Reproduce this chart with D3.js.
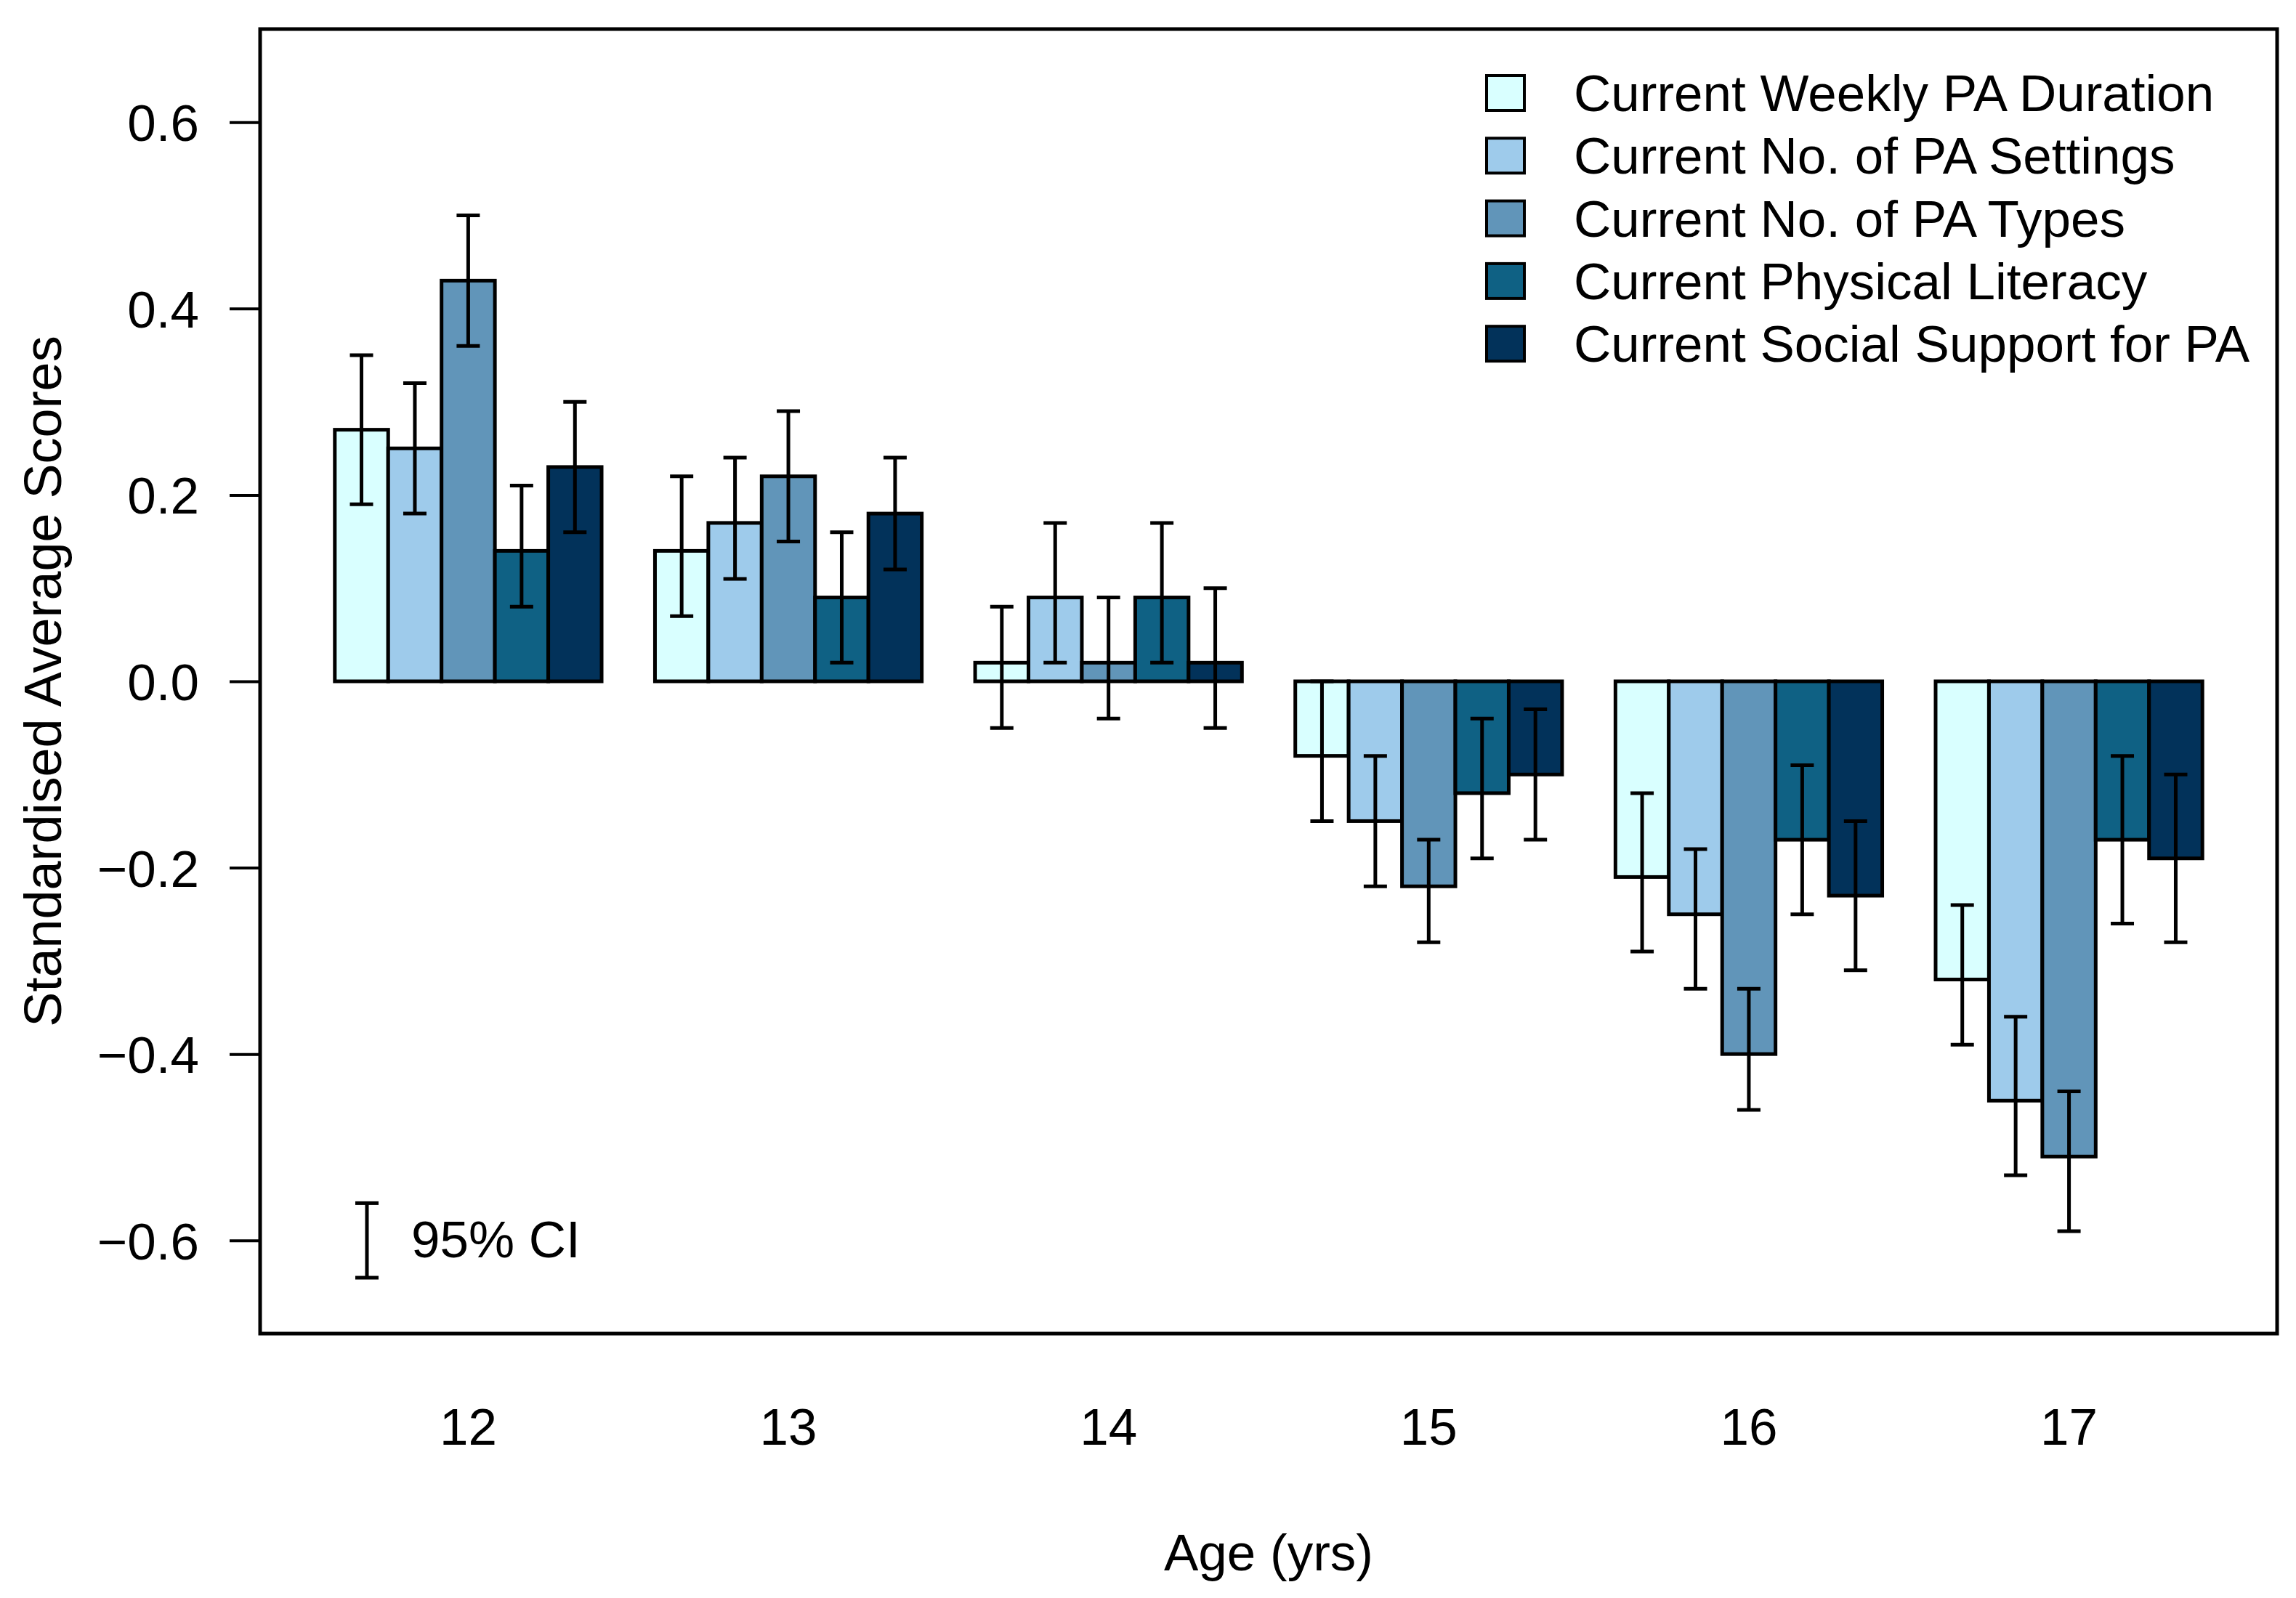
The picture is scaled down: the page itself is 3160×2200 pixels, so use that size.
<!DOCTYPE html>
<html>
<head>
<meta charset="utf-8">
<script src="https://cdn.jsdelivr.net/npm/d3@7"></script>
<style>
    body { margin: 0; background: #fff; }
    text { font-family: "Liberation Sans", Arial, Helvetica, sans-serif; }
</style>
</head>
<body>
<div id="chart"></div>
<script>
// age groups on the x axis
var ages = ["12", "13", "14", "15", "16", "17"];
// series, in legend order
var seriesNames = [
    "Current Weekly PA Duration",
    "Current No. of PA Settings",
    "Current No. of PA Types",
    "Current Physical Literacy",
    "Current Social Support for PA"
];
var seriesColors = ["#D9FFFF", "#9ECBEB", "#6195B9", "#0F6184", "#02325A"];

// standardised average scores, one array per series (ages 12..17)
var duration = [0.27, 0.14, 0.02, -0.08, -0.21, -0.32];
var settings = [0.25, 0.17, 0.09, -0.15, -0.25, -0.45];
var types    = [0.43, 0.22, 0.02, -0.22, -0.40, -0.51];
var literacy = [0.14, 0.09, 0.09, -0.12, -0.17, -0.17];
var support  = [0.23, 0.18, 0.02, -0.10, -0.23, -0.19];

// 95% CI bounds
var durationLo = [0.19, 0.07, -0.05, -0.15, -0.29, -0.39];
var settingsLo = [0.18, 0.11, 0.02, -0.22, -0.33, -0.53];
var typesLo    = [0.36, 0.15, -0.04, -0.28, -0.46, -0.59];
var literacyLo = [0.08, 0.02, 0.02, -0.19, -0.25, -0.26];
var supportLo  = [0.16, 0.12, -0.05, -0.17, -0.31, -0.28];

var durationHi = [0.35, 0.22, 0.08, 0.00, -0.12, -0.24];
var settingsHi = [0.32, 0.24, 0.17, -0.08, -0.18, -0.36];
var typesHi    = [0.50, 0.29, 0.09, -0.17, -0.33, -0.44];
var literacyHi = [0.21, 0.16, 0.17, -0.04, -0.09, -0.08];
var supportHi  = [0.30, 0.24, 0.10, -0.03, -0.15, -0.10];

var yTicks = [-0.6, -0.4, -0.2, 0.0, 0.2, 0.4, 0.6];

var means = [duration, settings, types, literacy, support];
var lows = [durationLo, settingsLo, typesLo, literacyLo, supportLo];
var highs = [durationHi, settingsHi, typesHi, literacyHi, supportHi];

// flat rows for drawing
var rows = [];
ages.forEach(function (age, i) {
    seriesNames.forEach(function (name, s) {
        rows.push({ age: age, name: name, color: seriesColors[s],
            value: means[s][i], lo: lows[s][i], hi: highs[s][i] });
    });
});

var width = 3160, height = 2200;
var plot = { left: 358, right: 3134, top: 40, bottom: 1836 };
var fontSize = 71;

var svg = d3.select("#chart")
    .append("svg")
    .attr("width", width)
    .attr("height", height)
    .style("background", "#fff");

var y = d3.scaleLinear()
    .domain([-0.7, 0.7])
    .range([plot.bottom, plot.top]);

// 5 bars + one bar-wide gap per group, like R barplot(beside = TRUE)
var xGroup = d3.scaleBand()
    .domain(ages)
    .range([plot.left, plot.right])
    .paddingInner(1 / 6)
    .paddingOuter(0.7 / 3);

var xBar = d3.scaleBand()
    .domain(seriesNames)
    .range([0, xGroup.bandwidth()]);

// bars
svg.append("g")
    .selectAll("rect")
    .data(rows)
    .join("rect")
    .attr("x", function (d) { return xGroup(d.age) + xBar(d.name); })
    .attr("width", xBar.bandwidth())
    .attr("y", function (d) { return y(Math.max(0, d.value)); })
    .attr("height", function (d) { return Math.abs(y(d.value) - y(0)); })
    .attr("fill", function (d) { return d.color; })
    .attr("stroke", "#000")
    .attr("stroke-width", 5);

// error bars
var capHalf = 16;
var errGroup = svg.append("g")
    .attr("stroke", "#000")
    .attr("stroke-width", 5)
    .selectAll("g")
    .data(rows)
    .join("g")
    .attr("transform", function (d) {
        return "translate(" + (xGroup(d.age) + xBar(d.name) + xBar.bandwidth() / 2) + ",0)";
    });
errGroup.append("line")
    .attr("y1", function (d) { return y(d.lo); })
    .attr("y2", function (d) { return y(d.hi); });
errGroup.append("line")
    .attr("x1", -capHalf).attr("x2", capHalf)
    .attr("y1", function (d) { return y(d.lo); })
    .attr("y2", function (d) { return y(d.lo); });
errGroup.append("line")
    .attr("x1", -capHalf).attr("x2", capHalf)
    .attr("y1", function (d) { return y(d.hi); })
    .attr("y2", function (d) { return y(d.hi); });

// y axis
var yAxis = svg.append("g")
    .attr("transform", "translate(" + plot.left + ",0)")
    .call(d3.axisLeft(y)
        .tickValues(yTicks)
        .tickFormat(d3.format(".1f"))
        .tickSize(42)
        .tickPadding(42));
yAxis.select(".domain").remove();
yAxis.selectAll(".tick line").attr("stroke", "#000").attr("stroke-width", 4);
yAxis.selectAll(".tick text")
    .attr("fill", "#000")
    .style("font-size", fontSize + "px")
    .attr("dy", "0.36em");

// x labels under each group
svg.append("g")
    .selectAll("text")
    .data(ages)
    .join("text")
    .attr("x", function (d) { return xGroup(d) + xGroup.bandwidth() / 2; })
    .attr("y", 1989)
    .attr("text-anchor", "middle")
    .style("font-size", fontSize + "px")
    .text(function (d) { return d; });

// frame
svg.append("rect")
    .attr("x", plot.left)
    .attr("y", plot.top)
    .attr("width", plot.right - plot.left)
    .attr("height", plot.bottom - plot.top)
    .attr("fill", "none")
    .attr("stroke", "#000")
    .attr("stroke-width", 5);

// axis titles
svg.append("text")
    .attr("x", (plot.left + plot.right) / 2)
    .attr("y", 2162)
    .attr("text-anchor", "middle")
    .style("font-size", fontSize + "px")
    .text("Age (yrs)");

svg.append("text")
    .attr("transform", "translate(84," + y(0) + ") rotate(-90)")
    .attr("text-anchor", "middle")
    .style("font-size", "72px")
    .text("Standardised Average Scores");

// legend
var legend = svg.append("g")
    .selectAll("g")
    .data(seriesNames)
    .join("g")
    .attr("transform", function (d, i) { return "translate(2046," + (128 + i * 86.3) + ")"; });
legend.append("rect")
    .attr("x", 0)
    .attr("y", -24)
    .attr("width", 52)
    .attr("height", 48)
    .attr("fill", function (d, i) { return seriesColors[i]; })
    .attr("stroke", "#000")
    .attr("stroke-width", 4);
legend.append("text")
    .attr("x", 120)
    .attr("y", 25)
    .style("font-size", fontSize + "px")
    .text(function (d) { return d; });

// 95% CI key
var ciKey = svg.append("g").attr("stroke", "#000").attr("stroke-width", 5);
ciKey.append("line").attr("x1", 505).attr("x2", 505).attr("y1", y(-0.56)).attr("y2", y(-0.64));
ciKey.append("line").attr("x1", 505 - capHalf).attr("x2", 505 + capHalf).attr("y1", y(-0.56)).attr("y2", y(-0.56));
ciKey.append("line").attr("x1", 505 - capHalf).attr("x2", 505 + capHalf).attr("y1", y(-0.64)).attr("y2", y(-0.64));
svg.append("text")
    .attr("x", 566)
    .attr("y", 1731)
    .style("font-size", fontSize + "px")
    .text("95% CI");
</script>
</body>
</html>
